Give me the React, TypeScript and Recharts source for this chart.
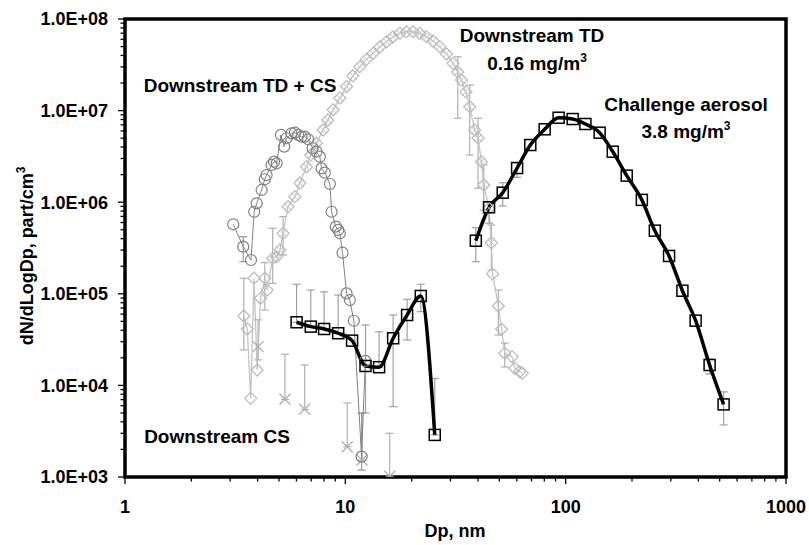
import React from 'react';
import { ComposedChart, Line, XAxis, YAxis, ErrorBar, ReferenceArea } from 'recharts';

const FONT = '"Liberation Sans", Arial, Helvetica, sans-serif';

// Challenge aerosol (black squares, smoothed line)
const challengeDp = [39.1, 44.9, 51.8, 60.2, 69.1, 80.3, 92.9, 107.6, 122.9, 142.6, 163.6, 189.3, 221.7, 253.9, 294.6, 338.8, 388.9, 450, 521];
const challengeN = [3.8e5, 8.8e5, 1.27e6, 2.36e6, 4.21e6, 6.25e6, 8.36e6, 8.09e6, 7.14e6, 5.74e6, 3.56e6, 1.95e6, 1.06e6, 4.89e5, 2.59e5, 1.08e5, 5.09e4, 1.67e4, 6.2e3];
const challengeBars = [[39.1, 2.24e5, 5.27e5], [44.9, 5.9e5, 1.0e6], [51.8, 9.1e5, 1.63e6], [60.2, 1.87e6, 2.7e6], [450, 1.33e4, 1.94e4], [521, 3.7e3, 8.5e3]];

// Downstream CS (black squares, 6-25 nm)
const csDp = [6.01, 6.97, 8.01, 9.28, 10.73, 12.35, 14.23, 16.48, 19.07, 22.0, 25.46];
const csN = [4.89e4, 4.38e4, 4.13e4, 3.71e4, 3.08e4, 1.63e4, 1.58e4, 3.27e4, 5.87e4, 9.47e4, 2.88e3];
const csBars = [[6.01, null, 1.27e5], [6.97, null, 1.1e5], [8.01, null, 1.05e5], [9.28, null, 9.7e4], [12.35, 5.0e3, 4.56e4], [14.23, null, 3.85e4], [16.48, 5.86e3, 5.87e4], [19.07, 3.13e4, 8.71e4], [22.0, 6.38e4, 1.27e5], [25.46, null, 1.19e4]];

// Downstream TD (light grey diamonds)
const tdDp = [3.46, 3.59, 3.72, 3.85, 3.98, 4.12, 4.31, 4.42, 4.68, 4.87, 5.05, 5.22, 5.5, 5.9, 6.22, 6.67, 6.97, 7.4, 7.93, 8.33, 8.8, 9.44, 10.13, 10.81, 11.63, 12.48, 13.37, 14.34, 15.38, 16.42, 17.67, 18.95, 20.3, 21.77, 23.35, 25.02, 26.83, 28.77, 30.83, 32.38, 33.65, 35.2, 36.69, 38.66, 40.02, 41.47, 42.48, 44.89, 46.0, 46.6, 49.5, 51.2, 52.9, 57.1, 58.7, 61.9, 63.6];
const tdN = [5.72e4, 4.13e4, 7.22e3, 1.48e5, 1.47e4, 8.93e4, 1.48e5, 1.1e5, 2.44e5, 2.54e5, 3.01e5, 4.57e5, 8.93e5, 1.15e6, 1.62e6, 2.44e6, 3.28e6, 4.4e6, 6.14e6, 7.89e6, 1.02e7, 1.37e7, 1.83e7, 2.39e7, 3.02e7, 3.62e7, 4.23e7, 4.95e7, 5.65e7, 6.36e7, 6.98e7, 7.27e7, 7.27e7, 6.95e7, 6.41e7, 5.75e7, 4.99e7, 4.15e7, 3.28e7, 2.64e7, 2.16e7, 1.6e7, 1.1e7, 6.14e6, 5.02e6, 2.77e6, 1.54e6, 8.58e5, 3.61e5, 1.65e5, 7.36e4, 4.1e4, 2.24e4, 2.06e4, 1.54e4, 1.41e4, 1.36e4];
const tdBars = [[3.46, 2.44e4, 1.48e5], [4.31, 6.65e4, 2.19e5], [4.68, 1.3e5, 5.19e5], [5.22, 2.65e5, 6.95e5], [32.38, 8.24e6, 3.87e7], [36.69, 3.27e6, 1.9e7], [40.02, 1.42e6, 8.24e6], [42.48, 8.2e5, 2.55e6], [46.0, 1.82e5, 5.64e5], [49.5, 3.55e4, 1.1e5], [52.9, 1.59e4, 2.9e4]];

// Downstream TD + CS (grey circles)
const tdcsDp = [3.1, 3.44, 3.73, 3.86, 3.96, 4.17, 4.31, 4.39, 4.63, 4.75, 4.88, 5.1, 5.28, 5.41, 5.7, 5.9, 6.11, 6.33, 6.55, 6.78, 7.1, 7.4, 7.66, 7.8, 8.07, 8.51, 8.66, 9.05, 9.28, 9.44, 9.71, 10.13, 10.48, 10.93, 11.85, 12.32];
const tdcsN = [5.74e5, 3.27e5, 2.34e5, 7.87e5, 9.72e5, 1.36e6, 1.78e6, 1.98e6, 2.55e6, 2.77e6, 2.66e6, 5.42e6, 4.04e6, 4.99e6, 5.65e6, 5.74e6, 5.42e6, 5.19e6, 5.19e6, 4.86e6, 3.88e6, 3.56e6, 3.14e6, 2.34e6, 2.1e6, 1.58e6, 7.87e5, 5.41e5, 4.98e5, 4.58e5, 2.81e5, 1.01e5, 8.55e4, 5.08e4, 1.67e3, 1.85e4];
const tdcsBars = [[3.44, 2.24e5, 4.2e5], [11.85, 1.19e3, 4.96e3]];

// Downstream CS, second instrument (grey crosses)
const crossDp = [4.02, 5.32, 6.54, 10.2, 11.9, 15.9];
const crossN = [2.65e4, 7.05e3, 5.48e3, 2.14e3, 1.53e3, 1.02e3];
const crossBars = [[4.02, 1.9e4, 5.2e4], [5.32, null, 2.19e4], [6.54, null, 1.67e4], [10.2, null, 6.43e3], [11.9, null, 5.0e3], [15.9, null, 3.0e3]];

const decadesX = [1, 10, 100, 1000];
const decadesY = [1e3, 1e4, 1e5, 1e6, 1e7, 1e8];

const withMinors = (decades: number[]) => {
  const out: number[] = [];
  decades.forEach((d, i) => {
    out.push(d);
    if (i < decades.length - 1) for (let m = 2; m <= 9; m++) out.push(d * m);
  });
  return out;
};

const build = (xs: number[], ys: number[], bars: (number | null)[][]) =>
  xs.map((x, i) => {
    const y = ys[i];
    const b = bars.find((r) => r[0] === x);
    const err = b ? [b[1] == null ? 0 : y - (b[1] as number), b[2] == null ? 0 : (b[2] as number) - y] : undefined;
    return { x, y, err };
  });

const challengeData = build(challengeDp, challengeN, challengeBars);
const csData = build(csDp, csN, csBars);
const tdData = build(tdDp, tdN, tdBars);
const tdcsData = build(tdcsDp, tdcsN, tdcsBars);
const crossData = build(crossDp, crossN, crossBars);

const isDecade = (v: number) => Math.abs(Math.log10(v) - Math.round(Math.log10(v))) < 1e-6;
const sci = (v: number) => '1.0E+' + String(Math.round(Math.log10(v))).padStart(2, '0');

function XTick({ x, y, payload }: any) {
  const v = payload.value;
  const major = isDecade(v);
  return (
    <g>
      <line x1={x} x2={x} y1={y} y2={y + (major ? 7 : 4.5)} stroke="#000" strokeWidth={1.3} />
      {major && (
        <text x={x} y={y + 36} textAnchor="middle" fontFamily={FONT} fontWeight="bold" fontSize={18} fill="#000">
          {v}
        </text>
      )}
    </g>
  );
}

function YTick({ x, y, payload }: any) {
  const v = payload.value;
  const major = isDecade(v);
  return (
    <g>
      <line x1={x - (major ? 7 : 4.5)} x2={x} y1={y} y2={y} stroke="#000" strokeWidth={1.3} />
      {major && (
        <text x={x - 17} y={y + 6.4} textAnchor="end" fontFamily={FONT} fontWeight="bold" fontSize={18} fill="#000">
          {sci(v)}
        </text>
      )}
    </g>
  );
}

const square = (p: any) => (
  <rect key={'s' + p.index} x={p.cx - 5.5} y={p.cy - 5.5} width={11} height={11} fill="none" stroke="#000" strokeWidth={1.5} />
);

const circle = (p: any) => (
  <circle key={'c' + p.index} cx={p.cx} cy={p.cy} r={5.5} fill="none" stroke="#808080" strokeWidth={1.2} />
);

// diamonds; the scans on the main mode also carry an x mark
const diamond = (p: any) => {
  const { cx, cy, index } = p;
  const marked = index >= 10 && index <= 48;
  return (
    <g key={'d' + index}>
      <path d={`M${cx},${cy - 6}L${cx + 6},${cy}L${cx},${cy + 6}L${cx - 6},${cy}Z`} fill="none" stroke="#bdbdbd" strokeWidth={1.3} />
      {marked && (
        <path d={`M${cx - 4},${cy - 4}L${cx + 4},${cy + 4}M${cx - 4},${cy + 4}L${cx + 4},${cy - 4}`} stroke="#c6c6c6" strokeWidth={1} />
      )}
    </g>
  );
};

const cross = (p: any) => {
  const { cx, cy, index } = p;
  return (
    <path
      key={'x' + index}
      d={`M${cx - 5.5},${cy - 5.5}L${cx + 5.5},${cy + 5.5}M${cx - 5.5},${cy + 5.5}L${cx + 5.5},${cy - 5.5}`}
      stroke="#b0b0b0"
      strokeWidth={1.3}
    />
  );
};

const Note = ({ x, y, size = 19, children }: any) => (
  <div
    style={{
      position: 'absolute',
      left: x,
      top: y,
      transform: 'translate(-50%, -50%)',
      fontFamily: FONT,
      fontWeight: 'bold',
      fontSize: size,
      lineHeight: 1,
      whiteSpace: 'nowrap',
      color: '#000',
    }}
  >
    {children}
  </div>
);

const Sup = ({ children }: any) => (
  <span style={{ fontSize: 12, position: 'relative', top: -8 }}>{children}</span>
);

export default function App() {
  return (
    <div style={{ position: 'absolute', left: 0, top: 0, width: 809, height: 545, background: '#fff' }}>
      <ComposedChart width={809} height={545} margin={{ top: 19, right: 23, bottom: 28, left: 0 }}>
        <XAxis
          type="number"
          dataKey="x"
          scale="log"
          domain={[1, 1000]}
          allowDataOverflow
          ticks={withMinors(decadesX)}
          interval={0}
          tick={<XTick />}
          tickLine={false}
          axisLine={false}
          tickSize={0}
          tickMargin={0}
          height={40}
        />
        <YAxis
          type="number"
          dataKey="y"
          scale="log"
          domain={[1e3, 1e8]}
          allowDataOverflow
          ticks={withMinors(decadesY)}
          interval={0}
          tick={<YTick />}
          tickLine={false}
          axisLine={false}
          tickSize={0}
          tickMargin={0}
          width={125}
        />
        <Line data={tdData} dataKey="y" type="linear" stroke="#c4c4c4" strokeWidth={1.3} dot={diamond} activeDot={false} isAnimationActive={false}>
          <ErrorBar dataKey="err" direction="y" width={4} stroke="#b0b0b0" strokeWidth={1.2} isAnimationActive={false} />
        </Line>
        <Line data={crossData} dataKey="y" type="linear" stroke="none" dot={cross} activeDot={false} isAnimationActive={false}>
          <ErrorBar dataKey="err" direction="y" width={4} stroke="#b0b0b0" strokeWidth={1.2} isAnimationActive={false} />
        </Line>
        <Line data={tdcsData} dataKey="y" type="linear" stroke="#808080" strokeWidth={1} dot={circle} activeDot={false} isAnimationActive={false}>
          <ErrorBar dataKey="err" direction="y" width={4} stroke="#999" strokeWidth={1.2} isAnimationActive={false} />
        </Line>
        <Line data={csData} dataKey="y" type="monotone" stroke="#000" strokeWidth={3.5} dot={square} activeDot={false} isAnimationActive={false}>
          <ErrorBar dataKey="err" direction="y" width={4} stroke="#a0a0a0" strokeWidth={1.2} isAnimationActive={false} />
        </Line>
        <Line data={challengeData} dataKey="y" type="monotone" stroke="#000" strokeWidth={3.5} dot={square} activeDot={false} isAnimationActive={false}>
          <ErrorBar dataKey="err" direction="y" width={4} stroke="#a0a0a0" strokeWidth={1.2} isAnimationActive={false} />
        </Line>
        <ReferenceArea x1={1} x2={1000} y1={1e3} y2={1e8} fill="none" stroke="#000" strokeWidth={3.5} ifOverflow="visible" />
      </ComposedChart>

      <Note x={240} y={85}>Downstream TD + CS</Note>
      <Note x={532} y={35}>Downstream TD</Note>
      <Note x={537} y={63}>
        0.16 mg/m<Sup>3</Sup>
      </Note>
      <Note x={686} y={104}>Challenge aerosol</Note>
      <Note x={686} y={131}>
        3.8 mg/m<Sup>3</Sup>
      </Note>
      <Note x={217} y={436}>Downstream CS</Note>
      <Note x={455} y={531} size={18}>Dp, nm</Note>
      <div
        style={{
          position: 'absolute',
          left: 27,
          top: 256,
          transform: 'translate(-50%, -50%) rotate(-90deg)',
          fontFamily: FONT,
          fontWeight: 'bold',
          fontSize: 18,
          lineHeight: 1,
          whiteSpace: 'nowrap',
        }}
      >
        dN/dLogDp, part/cm<Sup>3</Sup>
      </div>
    </div>
  );
}
